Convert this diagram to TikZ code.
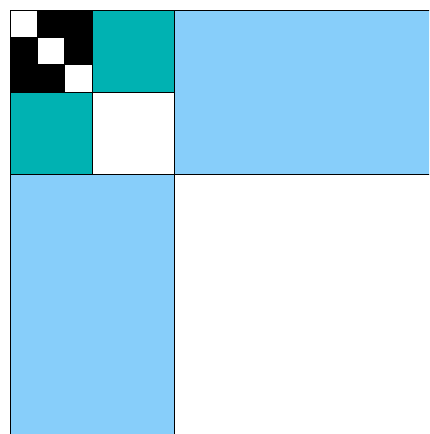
\documentclass[tikz,border=0pt]{standalone}
\definecolor{lblue}{RGB}{135,206,250}
\definecolor{teal2}{RGB}{0,178,178}
\tikzset{cell/.style={draw=black,line width=0.8pt}}
\begin{document}
\begin{tikzpicture}[x=1pt,y=-1pt]
\path[use as bounding box] (0,0) rectangle (429,434);
\clip (0,0) rectangle (429,434);
\fill[white] (0,0) rectangle (429,434);
% blue blocks
\path[cell,fill=lblue] (174,10) rectangle (445,174);
\path[cell,fill=lblue] (10,174) rectangle (174,450);
% teal blocks
\path[cell,fill=teal2] (92,10) rectangle (174,92);
\path[cell,fill=teal2] (10,92) rectangle (92,174);
\path[cell,fill=white] (92,92) rectangle (174,174);
% black block
\path[cell,fill=black] (10,10) rectangle (92,92);
\path[cell,fill=white] (10,10) rectangle (37.33,37.33);
\path[cell,fill=white] (37.33,37.33) rectangle (64.67,64.67);
\path[cell,fill=white] (64.67,64.67) rectangle (92,92);
\end{tikzpicture}
\end{document}
